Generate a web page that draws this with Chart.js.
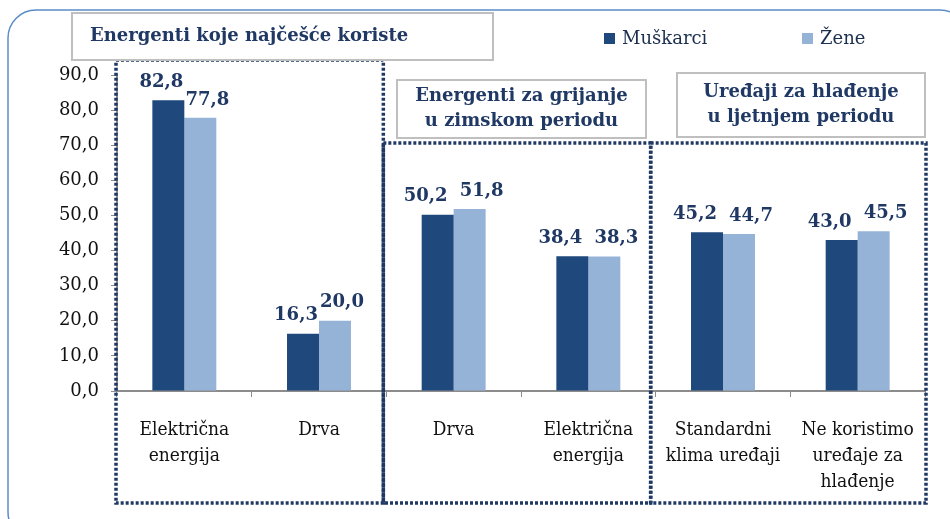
<!DOCTYPE html>
<html lang="hr">
<head>
<meta charset="UTF-8">
<title>Energenti</title>
<script src="https://cdn.jsdelivr.net/npm/chart.js"></script>
<style>
    html, body { margin: 0; padding: 0; background: #fff; }
    #wrap { width: 950px; height: 519px; position: relative; }
</style>
</head>
<body>
<div id="wrap"><canvas id="myChart" width="950" height="519"></canvas></div>
<script>
    // podaci
    var categories = [
        ['Električna', 'energija'],
        'Drva',
        'Drva',
        ['Električna', 'energija'],
        ['Standardni', 'klima uređaji'],
        ['Ne koristimo', 'uređaje za', 'hlađenje']
    ];
    var muskarci = [82.8, 16.3, 50.2, 38.4, 45.2, 43.0];
    var zene = [77.8, 20.0, 51.8, 38.3, 44.7, 45.5];
    var seriesNames = ['Muškarci', 'Žene'];
    var yTicks = [0, 10, 20, 30, 40, 50, 60, 70, 80, 90];

    var navy = '#1f3864';
    var serif = "'DejaVu Serif', 'Liberation Serif', serif";
    var condSerif = "'DejaVu Serif Condensed', 'DejaVu Serif', serif";

    function fmt(v) {
        return v.toFixed(1).replace('.', ',');
    }

    // okviri, naslovi, legenda, oznake
    var decor = {
        id: 'decor',
        beforeDraw: function (chart) {
            var ctx = chart.ctx;
            ctx.save();
            ctx.fillStyle = '#fff';
            ctx.fillRect(0, 0, chart.width, chart.height);
            ctx.strokeStyle = '#5b8cc8';
            ctx.lineWidth = 1.5;
            ctx.beginPath();
            ctx.roundRect(8, 10, 960, 530, 28);
            ctx.stroke();
            ctx.restore();
        },
        afterDraw: function (chart) {
            var ctx = chart.ctx;
            var x = chart.scales.x;
            var half = (x.getPixelForValue(1) - x.getPixelForValue(0)) / 2;
            var edge = function (i) { return x.getPixelForValue(i) - half; };
            var area = chart.chartArea;

            ctx.save();
            // isprekidani okviri
            ctx.strokeStyle = navy;
            ctx.lineWidth = 3.5;
            ctx.setLineDash([3, 2]);
            var bottom = 503;
            var b1 = [area.left - 1, 60, edge(2) - 3];
            var b2 = [edge(2) - 3, 143, edge(4) - 5];
            var b3 = [edge(4) - 5, 143, area.right + 1];
            [b1, b2, b3].forEach(function (b) {
                ctx.strokeRect(b[0], b[1], b[2] - b[0], bottom - b[1]);
            });
            ctx.setLineDash([]);

            // naslovni okviri
            var titles = [
                { x: 72, y: 13, w: 421, h: 47, lines: ['Energenti koje najčešće koriste'], align: 'left' },
                { x: 397, y: 80, w: 249, h: 58, lines: ['Energenti za grijanje', 'u zimskom periodu'], align: 'center' },
                { x: 677, y: 73, w: 248, h: 64, lines: ['Uređaji za hlađenje', 'u ljetnjem periodu'], align: 'center' }
            ];
            titles.forEach(function (t) {
                ctx.fillStyle = '#fff';
                ctx.fillRect(t.x, t.y, t.w, t.h);
                ctx.strokeStyle = '#bfbfbf';
                ctx.lineWidth = 2;
                ctx.strokeRect(t.x, t.y, t.w, t.h);
                ctx.fillStyle = navy;
                ctx.font = 'bold 18px ' + serif;
                ctx.textBaseline = 'middle';
                ctx.textAlign = t.align;
                var lh = 25;
                var y0 = t.y + t.h / 2 - (t.lines.length - 1) * lh / 2;
                t.lines.forEach(function (l, k) {
                    var tx = t.align === 'left' ? t.x + 18 : t.x + t.w / 2;
                    ctx.fillText(l, tx, y0 + k * lh);
                });
            });

            // legenda
            var legX = [604, 802];
            ctx.font = '18px ' + serif;
            ctx.textAlign = 'left';
            ctx.textBaseline = 'middle';
            chart.data.datasets.forEach(function (ds, i) {
                ctx.fillStyle = ds.backgroundColor;
                ctx.fillRect(legX[i], 33, 11, 11);
                ctx.fillStyle = '#1b2f4f';
                ctx.fillText(ds.label, legX[i] + 18, 39);
            });

            // oznake vrijednosti
            ctx.font = 'bold 18px ' + serif;
            ctx.fillStyle = navy;
            ctx.textAlign = 'center';
            ctx.textBaseline = 'bottom';
            var m0 = chart.getDatasetMeta(0), m1 = chart.getDatasetMeta(1);
            chart.data.datasets.forEach(function (ds, i) {
                var meta = chart.getDatasetMeta(i);
                meta.data.forEach(function (bar, j) {
                    var close = Math.abs(m0.data[j].y - m1.data[j].y) < 12;
                    var shift = close ? 12 : 7;
                    var dx = i === 0 ? -shift : shift;
                    ctx.fillText(fmt(ds.data[j]), bar.x + dx, bar.y - 9);
                });
            });
            ctx.restore();
        }
    };

    new Chart(document.getElementById('myChart'), {
        type: 'bar',
        data: {
            labels: categories,
            datasets: [
                { label: seriesNames[0], data: muskarci, backgroundColor: '#1f497d' },
                { label: seriesNames[1], data: zene, backgroundColor: '#95b3d7' }
            ]
        },
        options: {
            responsive: false,
            animation: false,
            layout: { padding: { top: 75, right: 25, bottom: 0, left: 0 } },
            datasets: {
                bar: { barPercentage: 1, categoryPercentage: 0.475 }
            },
            plugins: {
                legend: { display: false },
                tooltip: { enabled: false }
            },
            scales: {
                x: {
                    afterFit: function (axis) { axis.height = 128; },
                    grid: { display: true, offset: true, drawOnChartArea: false, tickLength: 6, color: '#8c8c8c' },
                    border: { color: '#8c8c8c', width: 2 },
                    ticks: {
                        maxRotation: 0,
                        autoSkip: false,
                        padding: 20,
                        color: '#111',
                        font: { family: condSerif, size: 19, lineHeight: 1.38 }
                    }
                },
                y: {
                    min: 0,
                    max: 90,
                    afterFit: function (axis) { axis.width = 117; },
                    afterBuildTicks: function (axis) {
                        axis.ticks = yTicks.map(function (v) { return { value: v }; });
                    },
                    grid: { display: true, drawOnChartArea: false, tickLength: 6, color: '#8c8c8c' },
                    border: { color: '#8c8c8c', width: 2 },
                    ticks: {
                        padding: 12,
                        color: '#111',
                        font: { family: serif, size: 18 },
                        callback: function (v) { return fmt(v); }
                    }
                }
            }
        },
        plugins: [decor]
    });
</script>
</body>
</html>
